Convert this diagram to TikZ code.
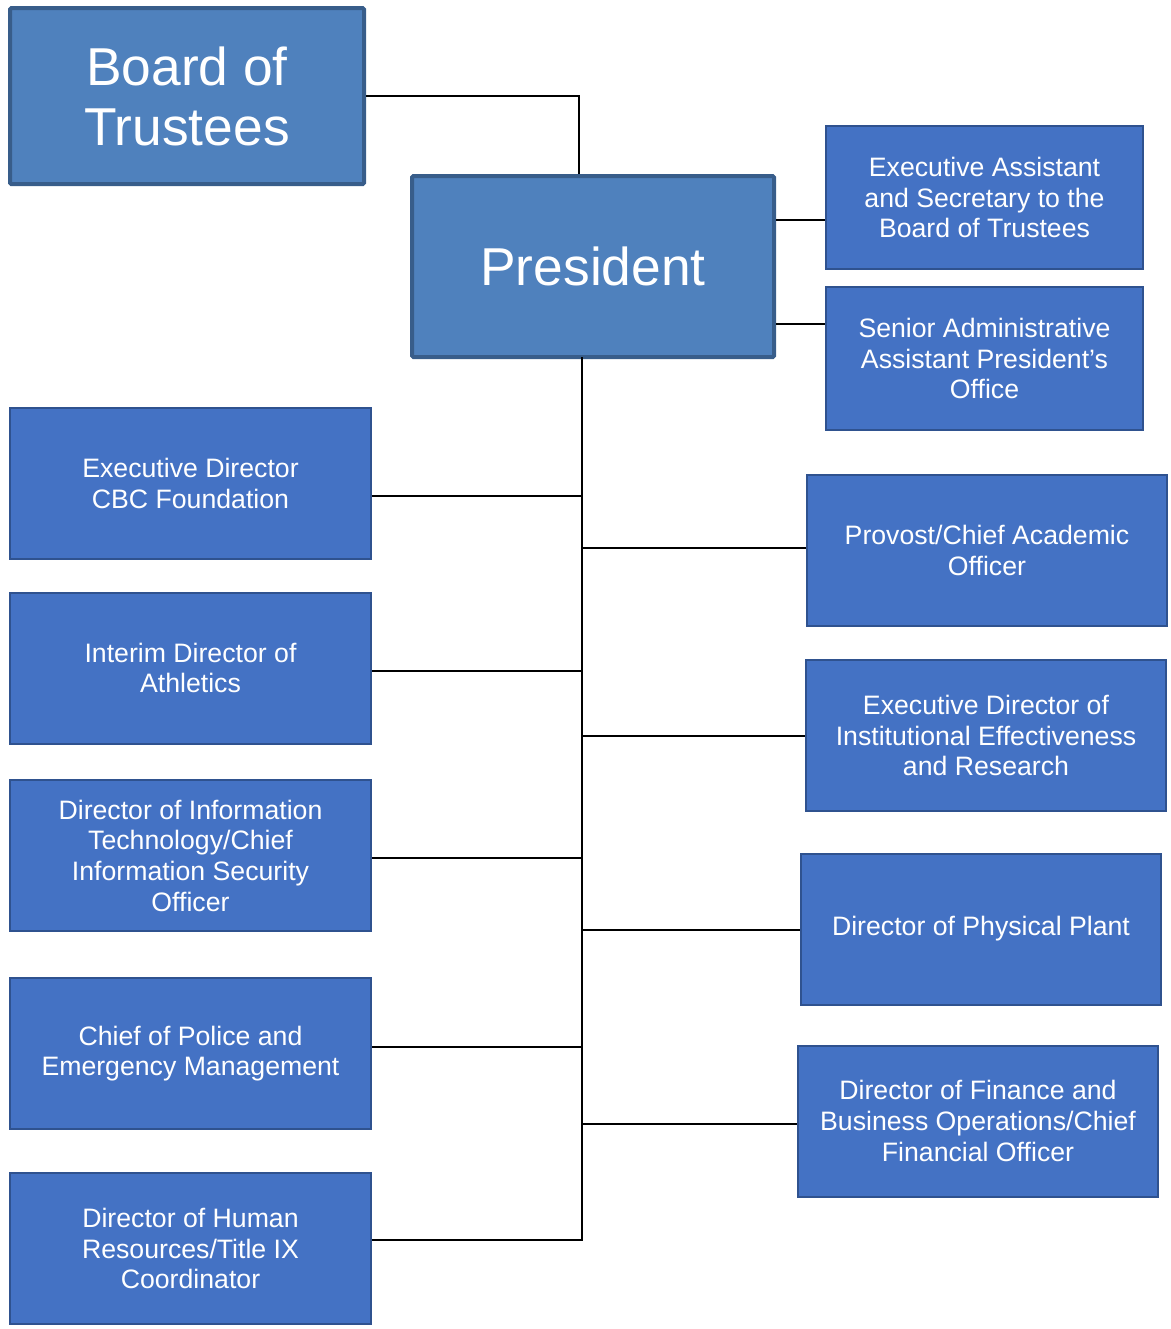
\documentclass[tikz,border=0pt]{standalone}
\usepackage{fontspec}
\setmainfont{Liberation Sans}
\usetikzlibrary{positioning}
\definecolor{headfill}{HTML}{4F81BD}
\definecolor{headborder}{HTML}{385D8A}
\definecolor{unitfill}{HTML}{4472C4}
\definecolor{unitborder}{HTML}{2F528F}

\begin{document}
\begin{tikzpicture}[x=0.75pt, y=-0.75pt,
  head/.style={draw=headborder, fill=headfill, line width=3pt, rounded corners=1pt, text=white, align=center, inner sep=0pt, font=\fontsize{40}{45}\selectfont},
  unit/.style={draw=unitborder, fill=unitfill, line width=1.5pt, text=white, align=center, inner sep=0pt, font=\fontsize{20}{23}\selectfont},
  leftunit/.style={unit, minimum width=270.75pt, minimum height=113.25pt},
  rightunit/.style={unit, minimum width=270pt, minimum height=113.25pt},
  link/.style={draw=black, line width=1.5pt}]
  \useasboundingbox (0,0) rectangle (1171,1329);
  % top of the chart
  \node[head, minimum width=265.5pt, minimum height=132pt] (board) at (187,96) {Board of\\Trustees};
  \node[head, minimum width=271.5pt, minimum height=135.75pt] (president) at (593,266.5) {President};
  \node[unit, minimum width=237.75pt, minimum height=107.25pt] (assistant) at (984.5,197.5) {Executive Assistant\\and Secretary to the\\Board of Trustees};
  \node[unit, minimum width=237.75pt, minimum height=107.25pt] (senior) at (984.5,358.5) {Senior Administrative\\Assistant President’s\\Office};
  % left column
  \node[leftunit] (cbc) at (190.5,483.5) {Executive Director\\CBC Foundation};
  \node[leftunit] (athletics) at (190.5,668) {Interim Director of\\Athletics};
  \node[leftunit] (it) at (190.5,855.5) {Director of Information\\Technology/Chief\\Information Security\\Officer};
  \node[leftunit] (police) at (190.5,1053.5) {Chief of Police and\\Emergency Management};
  \node[leftunit] (hr) at (190.5,1248.5) {Director of Human\\Resources/Title IX\\Coordinator};
  % right column
  \node[rightunit] (provost) at (987,550.5) {Provost/Chief Academic\\Officer};
  \node[rightunit] (research) at (986,735.5) {Executive Director of\\Institutional Effectiveness\\and Research};
  \node[rightunit] (plant) at (981,929) {Director of Physical Plant};
  \node[rightunit] (finance) at (978,1121) {Director of Finance and\\Business Operations/Chief\\Financial Officer};

  \coordinate (trunk) at (582,357);
  \draw[link] (board.east) -| ([xshift=-10.5pt]president.north);
  \draw[link] (trunk) |- (hr.east |- 0,1240);
  \foreach \n/\y in {assistant/220, senior/324}
    \draw[link] (president.east |- 0,\y) -- (\n.west |- 0,\y);
  \foreach \n/\y in {cbc/496, athletics/671, it/858, police/1047}
    \draw[link] (\n.east |- 0,\y) -- (trunk |- 0,\y);
  \foreach \n/\y in {provost/548, research/736, plant/930, finance/1124}
    \draw[link] (trunk |- 0,\y) -- (\n.west |- 0,\y);
\end{tikzpicture}
\end{document}
